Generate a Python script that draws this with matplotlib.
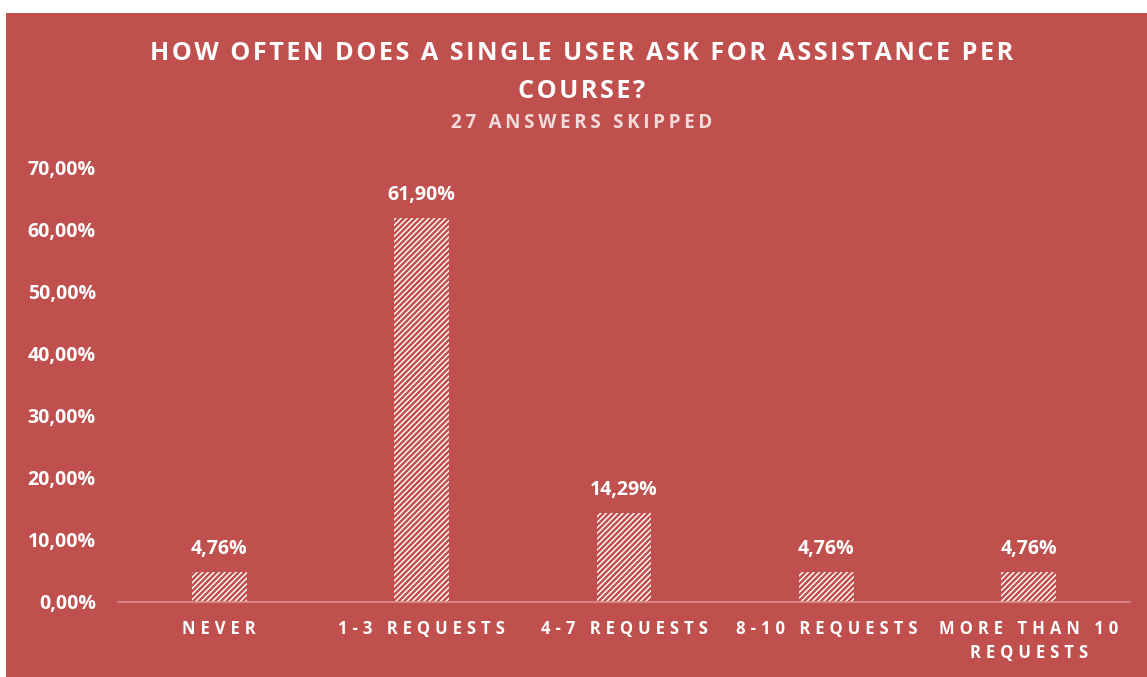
import matplotlib
matplotlib.use("Agg")
import matplotlib.pyplot as plt
from matplotlib.patches import Rectangle

categories = ["NEVER", "1-3 REQUESTS", "4-7 REQUESTS", "8-10 REQUESTS", "MORE THAN 10\nREQUESTS"]
shares = [4.76, 61.90, 14.29, 4.76, 4.76]
yticks = [0, 10, 20, 30, 40, 50, 60, 70]
title_lines = ["HOW OFTEN DOES A SINGLE USER ASK FOR ASSISTANCE PER", "COURSE?"]
subtitle = "27 ANSWERS SKIPPED"

RED = "#C0504D"
PINK = "#F2DCDB"

plt.rcParams["font.family"] = ["Open Sans", "DejaVu Sans"]
plt.rcParams["font.weight"] = "bold"


def spaced(s, gap):
    # fake letter spacing by putting narrow spaces between characters
    return "\n".join(gap.join(line) for line in s.split("\n"))


fig = plt.figure(figsize=(11.47, 6.77), dpi=100)
fig.patch.set_facecolor("white")
fig.patches.append(Rectangle((6 / 1147, 0), 1, 1 - 13 / 677, transform=fig.transFigure,
                             facecolor=RED, edgecolor="none", zorder=-10))

ax = fig.add_axes([118 / 1147, 75 / 677, (1130 - 118) / 1147, (602 - 168) / 677])
ax.set_facecolor("none")

x = range(len(categories))
plt.rcParams["hatch.linewidth"] = 1.8
plt.rcParams["hatch.color"] = RED
ax.bar(x, shares, width=0.27, color="white", edgecolor=RED, hatch="//////", linewidth=0)

for i, v in zip(x, shares):
    ax.text(i, v + 2.2, f"{v:.2f}%".replace(".", ","), ha="center", va="bottom",
            color="white", fontsize=14, fontweight="bold")

ax.set_xlim(-0.5, 4.5)
ax.set_ylim(0, 70)
ax.set_yticks(yticks)
ax.set_yticklabels([f"{t:.2f}%".replace(".", ",") for t in yticks], color="white",
                   fontsize=14, fontweight="bold")
ax.set_xticks(list(x))
ax.set_xticklabels([spaced(c, "\u2009\u200a") for c in categories], color="white",
                   fontsize=12, fontweight="bold", linespacing=1.45, va="top")
ax.tick_params(axis="y", length=0, pad=16)
ax.tick_params(axis="x", length=0, pad=13)

for side in ["top", "right", "left"]:
    ax.spines[side].set_visible(False)
ax.spines["bottom"].set_color("#D9908E")
ax.spines["bottom"].set_linewidth(1.2)

# two-line title, each line placed on its own
for line, ypx in zip(title_lines, [54, 92]):
    fig.text(582 / 1147, 1 - ypx / 677, spaced(line, "\u200a"), ha="center", va="center",
             color="white", fontsize=18.2, fontweight="bold")
fig.text(582 / 1147, 1 - 123 / 677, spaced(subtitle, "\u2009"), ha="center", va="center",
         color=PINK, fontsize=13.5, fontweight="bold")

fig.savefig("out.png", dpi=100)
